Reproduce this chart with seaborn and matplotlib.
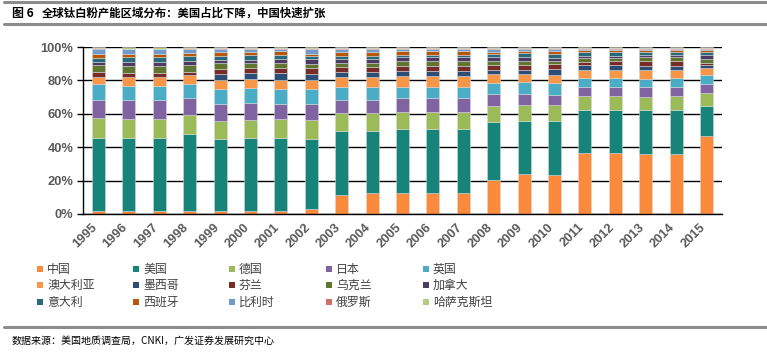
import numpy as np
import pandas as pd
import matplotlib
matplotlib.use("Agg")
import matplotlib.pyplot as plt
from matplotlib.patches import Rectangle
from matplotlib.lines import Line2D
import seaborn as sns

years = [str(y) for y in range(1995, 2016)]

countries = ["中国", "美国", "德国", "日本", "英国",
             "澳大利亚", "墨西哥", "芬兰", "乌克兰", "加拿大",
             "意大利", "西班牙", "比利时", "俄罗斯", "哈萨克斯坦"]

china      = [2, 2, 2, 2, 2, 2, 2, 3, 11.2, 12.6, 12.6, 12.6, 12.6, 20.2, 24, 23.4, 36.4, 36.4, 36, 36, 46.8]
usa        = [43.8, 43.8, 43.8, 46.2, 43.2, 43.8, 43.8, 42.2, 38.8, 37.4, 38, 38, 38, 34.6, 31.4, 32, 26, 26, 26.4, 26.4, 18]
germany    = [11.8, 11, 11, 10.8, 10.4, 10.6, 11.2, 11.2, 10.4, 10.4, 10.4, 10.4, 10.4, 10, 10, 9.6, 8.4, 8.4, 7.6, 8.4, 7.8]
japan      = [10.4, 11.2, 11.2, 10.4, 10.4, 10.2, 9, 9.6, 7.6, 7.6, 8.2, 8.2, 8.2, 7.2, 6.6, 6.4, 5.4, 5.4, 6.2, 5.4, 5]
uk         = [9.6, 8.8, 8.8, 8.2, 8.8, 8.8, 8.8, 8.6, 8.2, 8.2, 6.8, 6.8, 6.8, 6.2, 6.8, 6.8, 5.4, 5.4, 4.8, 5.4, 5.4]
australia  = [4.6, 5.4, 5.4, 5.4, 5.6, 5.6, 5.6, 5.6, 5.6, 5.6, 6.4, 6.4, 6.4, 5.6, 4.8, 5.2, 4.8, 4.8, 5.4, 4.8, 4.2]
mexico     = [0, 0, 0, 0, 3.4, 3.2, 3.8, 3.6, 3, 3, 3, 3, 3, 2.6, 2.8, 3.6, 2.6, 2.6, 2.2, 2.2, 1.8]
finland    = [2.8, 2, 2, 2, 3.2, 3, 3, 3.4, 3.2, 3.2, 3, 3, 3, 3, 2.8, 2.6, 2, 2.4, 2.8, 2.8, 1.6]
ukraine    = [4, 4.2, 4.2, 4, 3.4, 3.2, 3.4, 2.6, 2.6, 2.6, 3, 3, 3, 2.4, 2.6, 1.8, 2.4, 2, 2.4, 2.4, 2.4]
canada     = [2, 2.6, 2.6, 2.8, 2, 2, 2, 3, 2.2, 2.2, 2.4, 2.4, 2.4, 2.4, 2.4, 2, 1.4, 1.4, 1.6, 1.6, 2.4]
italy      = [2.6, 2.8, 2.8, 2.8, 2, 2.6, 2.4, 1.6, 2, 2, 1.6, 1.6, 1.6, 1.4, 2.2, 2.4, 2.2, 2.2, 1.6, 1.6, 1.6]
spain      = [2.4, 2.2, 2.2, 2, 2.4, 2, 2.4, 1.6, 2.2, 2.2, 2, 2, 2, 1.4, 1, 1.6, 1, 1, 1, 1, 1]
belgium    = [2.8, 2.6, 2.6, 2.4, 2, 1.8, 1.4, 2.8, 2, 2, 1.6, 1.6, 1.6, 1.8, 1.4, 1.4, 1, 1, 1, 1, 1]
russia     = [0.4, 0.5, 0.5, 0.4, 0.4, 0.4, 0.4, 0.4, 0.4, 0.4, 0.4, 0.4, 0.4, 0.4, 0.4, 0.4, 0.4, 0.4, 0.4, 0.4, 0.4]
kazakhstan = [0.8, 0.9, 0.9, 0.6, 0.8, 0.8, 0.8, 0.8, 0.6, 0.6, 0.6, 0.6, 0.6, 0.8, 0.8, 0.8, 0.6, 0.6, 0.6, 0.6, 0.6]

series = [china, usa, germany, japan, uk, australia, mexico, finland, ukraine,
          canada, italy, spain, belgium, russia, kazakhstan]

colors = ["#FB8A3C", "#17847A", "#9BBB59", "#8064A2", "#4BACC6",
          "#F79646", "#2C4D75", "#772C2A", "#5F7530", "#4D3B62",
          "#276A7C", "#B65708", "#729ACA", "#D0706D", "#B3CC82"]

sns.set_style("white")
plt.rcParams["font.family"] = ["Noto Sans CJK SC", "DejaVu Sans"]

fig = plt.figure(figsize=(7.67, 3.57), dpi=100)
ax = fig.add_axes([83 / 767, 1 - 214 / 357, (722 - 83) / 767, (214 - 47) / 357])

bottom = np.zeros(len(years))
for name, vals, col in zip(countries, series, colors):
    vals = np.array(vals, dtype=float)
    df = pd.DataFrame({"year": years, "share": vals})
    sns.barplot(data=df, x="year", y="share", bottom=bottom, color=col,
                width=0.43, errorbar=None, ax=ax, saturation=1,
                edgecolor=(0.85, 0.85, 0.85, 0.6), linewidth=0.6)
    bottom = bottom + vals

ax.set_xlim(-0.51, 20.51)
ax.set_ylim(0, 100)
ax.set_yticks([0, 20, 40, 60, 80, 100])
ax.set_yticklabels([f"{v}%" for v in [0, 20, 40, 60, 80, 100]],
                   family="Liberation Sans", fontweight="bold", fontsize=9.3, color="#595959")
ax.yaxis.grid(True, color="black", linewidth=1.0)
ax.set_axisbelow(True)
ax.set_xlabel("")
ax.set_ylabel("")
for s in ["top", "right"]:
    ax.spines[s].set_visible(False)
ax.spines["left"].set_color("black")
ax.spines["bottom"].set_color("black")
ax.spines["left"].set_linewidth(1.0)
ax.spines["bottom"].set_linewidth(1.0)
ax.tick_params(axis="y", which="both", left=True, length=4, width=1, color="black", pad=3)
ax.tick_params(axis="x", which="both", bottom=False, length=0, pad=4)
ax.set_xticks(range(len(years)))
ax.set_xticklabels(years, rotation=45, ha="right", va="center", rotation_mode="anchor",
                   family="Liberation Sans", fontweight="bold", fontsize=9.3, color="#595959")
offset = matplotlib.transforms.ScaledTranslation(-3 / 100, 0, fig.dpi_scale_trans)
for lab in ax.get_xticklabels():
    lab.set_y(-0.035)
    lab.set_transform(lab.get_transform() + offset)

# legend (row-major, 5 columns)
col_x = [40, 136, 232, 329, 426]
row_y = [269, 285, 302]
for i, (name, col) in enumerate(zip(countries, colors)):
    r, c = divmod(i, 5)
    x0 = col_x[c]
    y0 = row_y[r]
    fig.patches.append(Rectangle(((x0 - 3) / 767, 1 - (y0 + 3) / 357), 6 / 767, 6 / 357,
                                 transform=fig.transFigure, facecolor=col, edgecolor="none"))
    fig.text((x0 + 7) / 767, 1 - y0 / 357, name, fontsize=8.6, color="#404040",
             ha="left", va="center")

# header / footer
fig.add_artist(Line2D([4 / 767, 1.0], [1 - 1.5 / 357, 1 - 1.5 / 357], color="#8c8c8c", linewidth=2.2,
                      transform=fig.transFigure))
fig.add_artist(Line2D([4 / 767, 1.0], [1 - 24 / 357, 1 - 24 / 357], color="#8c8c8c", linewidth=2.2,
                      transform=fig.transFigure))
fig.add_artist(Line2D([4 / 767, 1.0], [1 - 327 / 357, 1 - 327 / 357], color="#8c8c8c", linewidth=2.2,
                      transform=fig.transFigure))
fig.text(12 / 767, 1 - 13.5 / 357, "图 6", fontsize=8.6, fontweight="bold", color="black",
         ha="left", va="center")
fig.text(42 / 767, 1 - 13.5 / 357, "全球钛白粉产能区域分布：美国占比下降，中国快速扩张",
         fontsize=8.2, fontweight="bold", color="black", ha="left", va="center")
fig.text(12 / 767, 1 - 341 / 357, "数据来源：美国地质调查局，CNKI，广发证券发展研究中心",
         fontsize=7.2, color="black", ha="left", va="center")

fig.savefig("out.png", dpi=100)
